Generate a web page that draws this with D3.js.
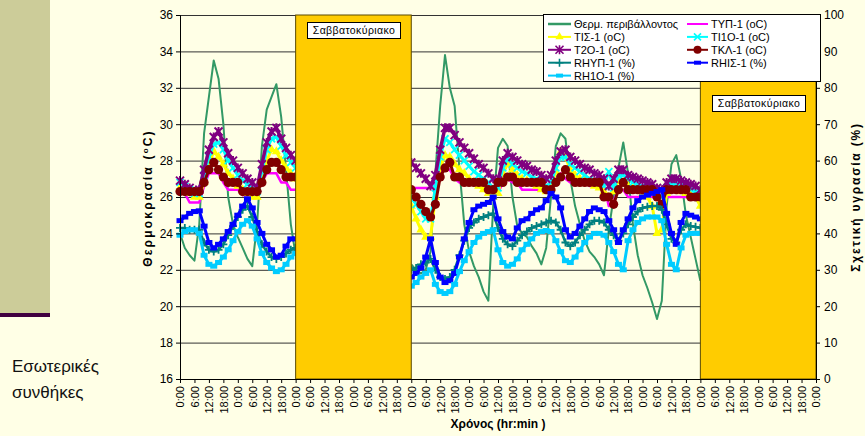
<!DOCTYPE html>
<html><head><meta charset="utf-8">
<script src="https://cdn.jsdelivr.net/npm/d3@7"></script>
<style>
html,body{margin:0;padding:0;background:#FFFFE6;}
svg{display:block;font-family:"Liberation Sans",Arial,sans-serif;}
</style></head>
<body><svg id="c" width="865" height="436"></svg>
<script>
// ---------- DATA ----------
const hoursA = [0,2,4,6,8,10,12,14,16,18,20,22,24,26,28,30,32,34,36,38,40,42,44,46,48];
const hoursB = [96,98,100,102,104,106,108,110,112,114,116,118,120,122,124,126,128,130,132,134,136,138,140,142,144,146,148,150,152,154,156,158,160,162,164,166,168,170,172,174,176,178,180,182,184,186,188,190,192,194,196,198,200,202,204,206,208,210,212,214,216];
const xTickHours = [0,6,12,18,24,30,36,42,48,54,60,66,72,78,84,90,96,102,108,114,120,126,132,138,144,150,156,162,168,174,180,186,192,198,204,210,216,222,228,234,240,246,252,258,264];
const xTickLabels = ["0:00","6:00","12:00","18:00"];
const tempTicks = [16,18,20,22,24,26,28,30,32,34,36];
const rhTicks = [0,10,20,30,40,50,60,70,80,90,100];
const weekends = [[48,96],[216,264]];
const weekendLabel = "Σαββατοκύριακο";

// Θερμ. περιβάλλοντος
const ambientA = [24.0,23.2,22.8,22.5,24.5,29.5,31.5,33.5,32.5,30.0,26.0,24.5,23.8,23.2,22.6,22.2,24.5,28.8,30.8,31.5,32.2,30.4,27.5,24.5,22.8];
const ambientB = [22.3,22.0,21.8,22.0,23.0,27.3,31.0,33.8,32.0,31.0,27.5,24.5,23.0,22.2,21.6,20.8,20.3,25.5,28.7,29.2,28.8,26.0,24.4,24.0,23.8,23.3,22.9,22.3,23.2,26.0,28.8,29.5,29.2,27.0,25.5,24.5,23.6,23.0,22.7,22.3,21.7,24.2,26.0,27.6,29.0,27.3,24.5,22.8,21.7,21.0,20.2,19.3,20.3,25.5,27.8,28.3,27.0,25.0,23.8,22.6,21.4];
// ΤΥΠ-1
const typA = [26.2,26.2,25.7,25.7,25.7,26.6,27.3,27.3,27.3,26.8,26.4,26.4,26.4,26.1,26.1,26.1,26.1,26.8,27.3,27.3,27.3,26.8,26.8,26.4,26.4];
const typB = [26.5,26.5,26.5,26.5,26.5,26.8,27.3,27.5,27.5,27.0,26.8,26.8,26.8,26.8,26.8,26.8,26.8,26.2,26.2,26.8,27.0,26.8,26.8,26.4,26.4,26.4,26.4,26.4,26.4,26.4,26.8,27.3,27.0,26.8,26.8,26.8,26.8,26.6,26.6,26.6,26.6,25.5,25.8,26.4,26.4,26.0,26.0,26.0,26.0,26.0,26.0,26.0,26.0,26.0,26.0,26.0,26.0,26.0,26.0,26.0,26.0];
// ΤΙΣ-1
const tisA = [26.5,26.3,26.2,26.0,26.0,26.8,27.8,28.5,28.2,27.8,27.3,27.0,26.6,26.4,26.2,26.0,26.0,27.0,28.0,28.6,28.5,28.0,27.6,27.3,27.0];
const tisB = [25.5,24.8,24.2,23.8,23.8,26.0,27.6,28.3,28.2,27.8,27.5,27.3,27.0,26.8,26.6,26.4,26.2,26.0,26.2,27.3,27.8,27.5,27.2,27.0,26.9,26.8,26.6,26.4,26.3,26.5,27.4,28.5,28.2,27.5,27.2,27.0,26.9,26.8,26.6,26.5,26.3,26.0,26.3,26.9,26.8,26.6,26.5,26.4,26.2,26.0,25.5,24.0,24.2,26.2,26.4,26.4,26.3,26.2,26.1,26.0,25.5];
// ΤΙ1Ο-1
const ti1oA = [26.8,26.6,26.4,26.2,26.2,27.2,28.2,28.9,29.0,28.6,28.0,27.6,27.2,26.9,26.7,26.5,26.3,27.4,28.6,29.2,29.3,28.8,28.3,27.9,27.6];
const ti1oB = [26.0,25.6,25.2,24.8,24.8,26.5,28.2,29.2,29.0,28.6,28.3,28.0,27.7,27.4,27.2,27.0,26.8,26.5,26.5,27.6,28.1,27.8,27.6,27.4,27.3,27.1,27.0,26.8,26.6,26.8,27.6,28.2,28.2,27.8,27.6,27.4,27.2,27.0,26.9,26.8,26.6,27.4,26.5,27.2,27.2,27.0,26.8,26.7,26.6,26.5,26.4,26.2,26.0,26.5,26.7,26.7,26.6,26.5,26.4,26.3,26.2];
// Τ2Ο-1
const t2oA = [26.9,26.7,26.5,26.3,26.4,27.5,28.6,29.3,29.6,29.0,28.4,28.0,27.6,27.3,27.0,26.8,26.5,27.8,29.0,29.6,29.8,29.2,28.7,28.3,28.0];
const t2oB = [27.9,27.6,27.3,27.0,26.6,27.2,28.6,29.8,29.8,29.4,29.0,28.7,28.4,28.1,27.8,27.6,27.3,27.0,26.9,28.0,28.4,28.2,28.0,27.8,27.7,27.5,27.4,27.2,27.0,27.2,28.0,28.5,28.6,28.2,28.0,27.8,27.6,27.5,27.3,27.2,27.0,26.6,27.0,27.5,27.5,27.2,27.1,27.0,26.9,26.8,26.7,26.5,26.4,26.8,27.0,27.0,26.9,26.8,26.7,26.6,26.4];
// ΤΚΛ-1
const tklA = [26.3,26.3,26.3,26.3,26.3,26.8,27.5,27.9,27.5,27.1,26.8,26.8,26.8,26.3,26.3,26.3,26.3,26.8,27.5,27.9,27.9,27.5,27.1,27.1,27.1];
const tklB = [26.4,26.0,25.6,25.2,24.9,25.6,27.1,27.6,27.9,27.1,27.1,26.8,26.8,26.8,26.8,26.8,26.4,26.4,26.8,26.8,27.1,27.1,26.8,26.8,26.8,26.8,26.8,26.8,26.4,26.4,26.8,27.1,27.5,27.1,26.8,26.8,26.8,26.8,26.8,26.8,26.0,26.0,25.6,26.4,26.8,26.4,26.4,26.4,26.4,26.4,26.4,26.0,25.6,26.4,26.4,26.4,26.4,26.4,26.0,26.0,26.0];
// RHΥΠ-1
const rhypA = [41.5,41.5,41.0,41.0,41.0,37.5,35.5,35.0,35.5,37.0,39.5,42.0,44.5,46.5,47.5,44.5,40.5,37.0,35.0,33.5,33.0,33.5,34.5,35.5,36.0];
const rhypB = [30.0,30.5,31.5,32.0,33.0,30.0,28.0,27.5,28.0,30.0,34.0,38.0,41.5,43.0,44.0,44.5,45.0,45.5,41.5,38.5,37.0,36.5,38.0,39.5,40.5,41.5,42.0,42.5,43.0,43.5,43.0,41.0,37.5,36.5,37.5,39.5,41.0,42.5,43.5,43.5,43.0,41.0,39.5,38.0,40.0,42.5,44.5,46.0,47.0,47.3,47.5,47.5,46.5,42.5,38.5,37.5,41.0,42.5,42.0,41.8,41.5];
// RHΙΣ-1
const rhisA = [43.5,44.5,45.5,46.0,46.2,42.0,37.5,36.0,37.0,38.5,40.5,42.5,45.0,47.5,49.5,47.0,43.0,40.0,37.0,35.5,33.5,34.0,36.5,38.5,38.5];
const rhisB = [28.0,29.0,30.5,33.5,38.5,32.0,28.0,26.5,27.0,29.0,33.5,38.5,43.0,46.5,47.5,48.0,48.5,50.0,44.0,40.5,39.0,38.5,41.5,43.5,44.0,45.5,46.5,47.0,49.0,51.0,50.0,47.0,41.0,39.0,40.0,42.0,44.0,46.0,47.0,46.5,46.0,43.5,41.0,37.5,41.0,44.0,47.0,49.0,50.0,50.5,51.0,51.5,52.0,45.5,40.0,37.0,43.0,45.5,45.0,44.5,44.0];
// RH1Ο-1
const rh1oA = [39.5,40.5,41.0,41.0,40.0,34.0,31.5,31.0,32.0,33.5,35.5,38.0,40.5,42.5,43.5,42.0,38.5,34.5,32.0,30.5,29.5,30.0,31.5,33.5,34.5];
const rh1oB = [25.5,26.5,28.0,29.0,30.0,26.0,24.0,23.5,24.0,26.0,29.5,32.5,35.0,37.5,39.0,40.0,40.5,41.0,35.5,32.0,31.0,31.5,33.0,35.5,37.0,38.5,40.0,40.5,40.8,40.5,38.0,35.0,32.5,32.0,33.5,35.5,37.5,39.0,40.0,40.0,39.5,37.5,35.0,31.5,30.0,38.0,41.0,43.0,44.0,44.5,44.5,44.5,43.5,37.0,31.5,30.0,36.0,39.5,40.0,40.0,40.0];

const seriesNames = ["Θερμ. περιβάλλοντος","ΤΥΠ-1 (oC)","ΤΙΣ-1 (oC)","ΤΙ1Ο-1 (oC)","Τ2Ο-1 (oC)","ΤΚΛ-1 (oC)","RHΥΠ-1 (%)","RHΙΣ-1 (%)","RH1Ο-1 (%)"];
const seriesColors = ["#339966","#FF00FF","#FFFF00","#00FFFF","#800080","#800000","#008080","#0000FF","#00CCFF"];
const seriesMarkers = ["none","none","triangle","x","star","circle","plus","dash","dash"];
const seriesAxis = ["T","T","T","T","T","T","RH","RH","RH"];
const seriesA = [ambientA,typA,tisA,ti1oA,t2oA,tklA,rhypA,rhisA,rh1oA];
const seriesB = [ambientB,typB,tisB,ti1oB,t2oB,tklB,rhypB,rhisB,rh1oB];

// ---------- CHART ----------
const svg = d3.select("#c");
const L = 180, R = 816, T = 15, B = 379;
const x = d3.scaleLinear().domain([0,264]).range([L,R]);
const yT = d3.scaleLinear().domain([16,36]).range([B,T]);
const yRH = d3.scaleLinear().domain([0,100]).range([B,T]);

// left side panel
svg.append("rect").attr("x",0).attr("y",0).attr("width",50).attr("height",313).attr("fill","#CCCC99");
svg.append("rect").attr("x",0).attr("y",313).attr("width",50).attr("height",4).attr("fill","#400040");
svg.append("text").attr("x",12).attr("y",372).attr("font-size",17).attr("fill","#111").text("Εσωτερικές");
svg.append("text").attr("x",12).attr("y",398).attr("font-size",17).attr("fill","#111").text("συνθήκες");

// gridlines
svg.append("g").selectAll("line").data(tempTicks.filter(t=>t>16)).join("line")
  .attr("x1",L).attr("x2",R).attr("y1",d=>yT(d)+0.5).attr("y2",d=>yT(d)+0.5)
  .attr("stroke","#333").attr("stroke-width",1);

// series
function markerPath(type){
  switch(type){
    case "x": return "M-3.5,-3.5L3.5,3.5M-3.5,3.5L3.5,-3.5";
    case "star": return "M-4,-4L4,4M-4,4L4,-4M0,-4.5L0,4.5";
    case "plus": return "M-4,0L4,0M0,-4L0,4";
    default: return null;
  }
}
const lineW = [2, 2.5, 3, 3, 3.5, 3, 2.5, 3, 3];
const gData = svg.append("g");
seriesNames.forEach((name,i)=>{
  const ys = seriesAxis[i]==="T" ? yT : yRH;
  const col = seriesColors[i];
  const segs = [hoursA.map((h,k)=>[h,seriesA[i][k]]), hoursB.map((h,k)=>[h,seriesB[i][k]])];
  const line = d3.line().x(d=>x(d[0])).y(d=>ys(d[1]));
  const g = gData.append("g");
  segs.forEach(seg=>{
    g.append("path").attr("d",line(seg)).attr("fill","none").attr("stroke",col)
      .attr("stroke-width", lineW[i]).attr("stroke-linejoin","round");
    const m = seriesMarkers[i];
    if(m==="none") return;
    const pts = g.selectAll(null).data(seg).join(m==="circle"?"circle":(m==="dash"?"rect":"path"));
    if(m==="circle"){
      pts.attr("cx",d=>x(d[0])).attr("cy",d=>ys(d[1])).attr("r",4.6).attr("fill",col);
    } else if(m==="dash"){
      pts.attr("x",d=>x(d[0])-3.5).attr("y",d=>ys(d[1])-2.5).attr("width",7).attr("height",5).attr("fill",col);
    } else if(m==="triangle"){
      pts.attr("d",d3.symbol(d3.symbolTriangle,36)()).attr("transform",d=>`translate(${x(d[0])},${ys(d[1])})`).attr("fill",col);
    } else {
      pts.attr("d",markerPath(m)).attr("transform",d=>`translate(${x(d[0])},${ys(d[1])})`)
        .attr("fill","none").attr("stroke",col).attr("stroke-width",m==="star"?2:1.8);
    }
  });
});

// weekend boxes
weekends.forEach((w,i)=>{
  svg.append("rect").attr("x",x(w[0])).attr("y",T).attr("width",x(w[1])-x(w[0])).attr("height",B-T)
    .attr("fill","#FFCC00").attr("stroke","#5a4a00").attr("stroke-width",1);
});
const lblBoxes = [[307,22],[712,95]];
lblBoxes.forEach(p=>{
  svg.append("rect").attr("x",p[0]+0.5).attr("y",p[1]+0.5).attr("width",93).attr("height",16)
    .attr("fill","#fff").attr("stroke","#000").attr("stroke-width",1);
  svg.append("text").attr("x",p[0]+47).attr("y",p[1]+12).attr("text-anchor","middle")
    .attr("font-size",10.5).attr("letter-spacing",0.4).attr("fill","#000").text(weekendLabel);
});

// axes
const axL = svg.append("g").attr("transform",`translate(${L},0)`)
  .call(d3.axisLeft(yT).tickValues(tempTicks).tickSize(4).tickFormat(d3.format("d")));
const axR = svg.append("g").attr("transform",`translate(${R},0)`)
  .call(d3.axisRight(yRH).tickValues(rhTicks).tickSize(4).tickFormat(d3.format("d")));
const axB = svg.append("g").attr("transform",`translate(0,${B})`)
  .call(d3.axisBottom(x).tickValues(xTickHours).tickSize(4).tickFormat((d,i)=>xTickLabels[i%4]));
[axL,axR,axB].forEach(a=>{
  a.select(".domain").attr("stroke","#000").attr("stroke-width",1);
  a.selectAll(".tick line").attr("stroke","#000");
  a.selectAll("text").attr("font-family","\"Liberation Sans\",Arial,sans-serif").attr("fill","#000");
});
axL.selectAll("text").attr("font-size",12).attr("x",-7);
axR.selectAll("text").attr("font-size",12).attr("x",8);
axB.selectAll("text").attr("font-size",11).attr("transform","rotate(-90)")
  .attr("text-anchor","end").attr("x",-7).attr("y",0).attr("dy","0.35em");

// titles
svg.append("text").attr("x",498).attr("y",428).attr("text-anchor","middle")
  .attr("font-size",12).attr("font-weight","bold").text("Χρόνος (hr:min )");
svg.append("text").attr("transform","translate(152,198) rotate(-90)").attr("text-anchor","middle")
  .attr("font-size",12).attr("font-weight","bold").attr("letter-spacing",2.2)
  .html('Θερμοκρασία (<tspan dy="-4" font-size="8">o</tspan><tspan dy="4">C)</tspan>');
svg.append("text").attr("transform","translate(860,197) rotate(-90)").attr("text-anchor","middle")
  .attr("font-size",12).attr("font-weight","bold").attr("letter-spacing",1.8).text("Σχετική υγρασία (%)");

// legend
const lg = svg.append("g");
lg.append("rect").attr("x",543.5).attr("y",14.5).attr("width",277).attr("height",67)
  .attr("fill","#fff").attr("stroke","#000").attr("stroke-width",1);
seriesNames.forEach((name,i)=>{
  const col = i%2, row = Math.floor(i/2);
  const lx = col===0 ? 548 : 687, ly = 24 + row*12.9;
  const lw = col===0 ? 23 : 21;
  const c = seriesColors[i];
  lg.append("line").attr("x1",lx).attr("x2",lx+lw).attr("y1",ly).attr("y2",ly)
    .attr("stroke",c).attr("stroke-width",i===0?2.5:2);
  const mx = lx+lw/2, m = seriesMarkers[i];
  if(m==="circle") lg.append("circle").attr("cx",mx).attr("cy",ly).attr("r",4).attr("fill",c);
  else if(m==="dash") lg.append("rect").attr("x",mx-3.5).attr("y",ly-2).attr("width",7).attr("height",4).attr("fill",c);
  else if(m==="triangle") lg.append("path").attr("d",d3.symbol(d3.symbolTriangle,30)()).attr("transform",`translate(${mx},${ly})`).attr("fill",c);
  else if(m!=="none") lg.append("path").attr("d",markerPath(m)).attr("transform",`translate(${mx},${ly})`).attr("fill","none").attr("stroke",c).attr("stroke-width",1.6);
  lg.append("text").attr("x",lx+lw+3).attr("y",ly+4).attr("font-size",11).attr("fill","#000").text(name);
});
</script></body></html>
